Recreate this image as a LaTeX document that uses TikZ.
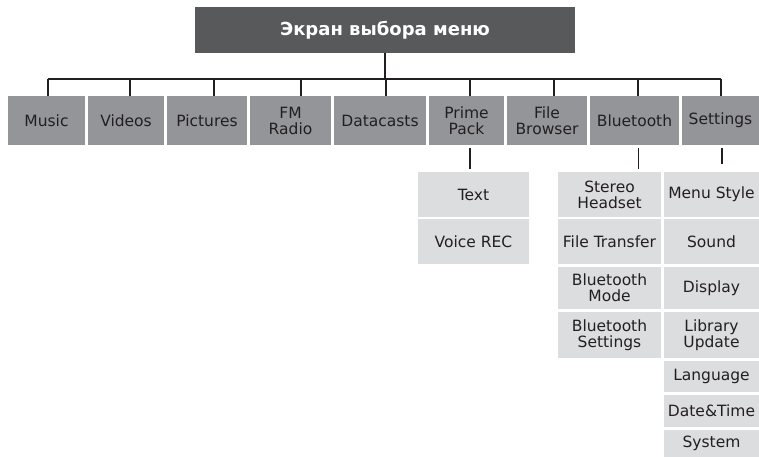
\documentclass[tikz,border=0pt]{standalone}
\usepackage{fontspec}
\setmainfont{DejaVu Sans}
\usetikzlibrary{calc}
\definecolor{headgray}{HTML}{58595B}
\definecolor{maingray}{HTML}{939598}
\definecolor{subgray}{HTML}{DCDDDE}
\definecolor{ink}{HTML}{231F20}
\begin{document}
\begin{tikzpicture}[x=1pt,y=-1pt,
  box/.style={inner sep=0pt,outer sep=0pt,align=center,text=ink,font=\fontsize{15.5}{16}\selectfont},
  head/.style={box,fill=headgray,text=white,font=\fontsize{18}{18}\selectfont\bfseries},
  main/.style={box,fill=maingray,minimum height=49pt},
  sub/.style={box,fill=subgray},
  wire/.style={draw=ink,line width=1.3pt}]
\useasboundingbox (0,0) rectangle (759,457);
\node[head,minimum width=380pt,minimum height=46pt] (menu) at (385,30) {Экран выбора меню};
\node[main,minimum width=77pt] (music) at (46.5,120.5) {Music};
\node[main,minimum width=76pt] (videos) at (126,120.5) {Videos};
\node[main,minimum width=80pt] (pictures) at (207,120.5) {Pictures};
\node[main,minimum width=81pt] (fmradio) at (290.5,120.5) {FM\\Radio};
\node[main,minimum width=92pt] (datacasts) at (380,120.5) {Datacasts};
\node[main,minimum width=75pt] (primepack) at (466.5,120.5) {Prime\\Pack};
\node[main,minimum width=80pt] (filebrowser) at (547,120.5) {File\\Browser};
\node[main,minimum width=89pt] (bluetooth) at (634.5,120.5) {Bluetooth};
\node[main,minimum width=77pt] (settings) at (720.5,120.5) {Settings};
\node[sub,minimum width=111pt,minimum height=45pt] (text) at (473.5,194.5) {Text};
\node[sub,minimum width=111pt,minimum height=45pt] (voicerec) at (473.5,241.5) {Voice REC};
\node[sub,minimum width=103pt,minimum height=45pt] (stereo) at (609.5,194.5) {Stereo\\Headset};
\node[sub,minimum width=103pt,minimum height=45pt] (filetransfer) at (609.5,241.5) {File Transfer};
\node[sub,minimum width=103pt,minimum height=42pt] (btmode) at (609.5,288) {Bluetooth\\Mode};
\node[sub,minimum width=103pt,minimum height=46pt] (btsettings) at (609.5,335) {Bluetooth\\Settings};
\node[sub,minimum width=95pt,minimum height=45pt] (menustyle) at (711.5,194.5) {Menu Style};
\node[sub,minimum width=95pt,minimum height=45pt] (sound) at (711.5,241.5) {Sound};
\node[sub,minimum width=95pt,minimum height=42pt] (display) at (711.5,288) {Display};
\node[sub,minimum width=95pt,minimum height=46pt] (library) at (711.5,335) {Library\\Update};
\node[sub,minimum width=95pt,minimum height=31pt] (language) at (711.5,376.5) {Language};
\node[sub,minimum width=95pt,minimum height=32pt] (datetime) at (711.5,411) {Date\&Time};
\node[sub,minimum width=95pt,minimum height=27pt] (system) at (711.5,443.5) {System};
\coordinate (busL) at (48,79);
\coordinate (busR) at (721,79);
\draw[wire] (busL) -- (busR);
\draw[wire] (menu.south) -- (menu.south |- busL);
\foreach \x/\n in {48/music,130/videos,214/pictures,301/fmradio,386/datacasts,470/primepack,554/filebrowser,638/bluetooth,721/settings}
  \draw[wire] (\x,79) -- (\x,0 |- \n.north);
\draw[wire] ($(primepack.south)+(3.5,3)$) -- ($(primepack.south |- text.north)+(3.5,-3)$);
\draw[wire] ($(bluetooth.south)+(4,3)$) -- ($(bluetooth.south |- stereo.north)+(4,-3)$);
\draw[wire] ($(settings.south)+(1.5,3)$) -- ($(settings.south |- menustyle.north)+(1.5,-8)$);
\end{tikzpicture}
\end{document}
